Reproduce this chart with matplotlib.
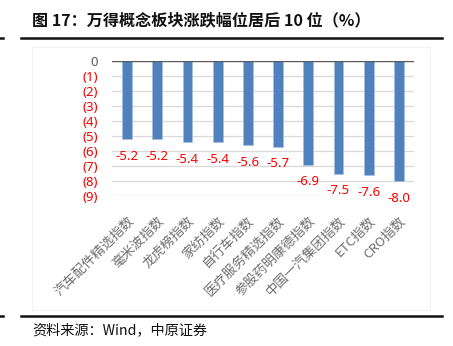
import matplotlib
matplotlib.use("Agg")
import matplotlib.pyplot as plt
from matplotlib.lines import Line2D
from matplotlib.patches import Rectangle

plt.rcParams['font.family'] = ['Noto Sans CJK SC', 'DejaVu Sans']

categories = ["汽车配件精选指数", "毫米波指数", "龙虎榜指数", "家纺指数", "自行车指数",
              "医疗服务精选指数", "参股药明康德指数", "中国一汽集团指数", "ETC指数", "CRO指数"]
values = [-5.2, -5.2, -5.4, -5.4, -5.6, -5.7, -6.9, -7.5, -7.6, -8.0]
ytick_values = [0, -1, -2, -3, -4, -5, -6, -7, -8, -9]
ytick_labels = ["0", "(1)", "(2)", "(3)", "(4)", "(5)", "(6)", "(7)", "(8)", "(9)"]

W, H = 453, 346
fig = plt.figure(figsize=(W / 100, H / 100), dpi=100)

# faint panel frame
fig.add_artist(Rectangle((32 / W, 1 - 310 / H), 398 / W, 263 / H, transform=fig.transFigure,
                         fill=False, edgecolor="#F2F2F2", linewidth=0.8))

# header / footer rules
for y in (37.5, 316):
    fig.add_artist(Line2D([21 / W, 442 / W], [1 - y / H, 1 - y / H], transform=fig.transFigure,
                          color="#111111", linewidth=1.8))
    fig.add_artist(Line2D([0, 3 / W], [1 - y / H, 1 - y / H], transform=fig.transFigure,
                          color="#111111", linewidth=1.8))

fig.text(32 / W, 1 - 20 / H, "图 17：万得概念板块涨跌幅位居后 10 位（%）", fontsize=11.6,
         fontweight="bold", color="#111111", ha="left", va="center")
fig.text(32 / W, 1 - 330 / H, "资料来源：Wind，中原证券", fontsize=10.2,
         color="#111111", ha="left", va="center")

ax = fig.add_axes([112 / W, 1 - 196 / H, 302 / W, 135 / H])
x = list(range(len(categories)))
ax.bar(x, values, width=0.32, color="#4F81BD", edgecolor="#A7C0DE", linewidth=0.5, zorder=3)

for xi, v in zip(x, values):
    ax.annotate(f"{v:.1f}", (xi, v), xytext=(0, -12.5), textcoords="offset points",
                ha="center", va="center", color="#FF0000", fontsize=9.5,
                family=["Noto Sans", "DejaVu Sans"], zorder=4)

ax.set_xlim(-0.5, len(categories) - 0.5)
ax.set_ylim(-9, 0)
ax.set_yticks(ytick_values)
ax.set_yticklabels(ytick_labels, family=["Noto Sans", "DejaVu Sans"], fontsize=9.5)
for lbl, v in zip(ax.get_yticklabels(), ytick_values):
    lbl.set_color("#595959" if v == 0 else "#FF0000")
ax.tick_params(axis="y", length=0, pad=10)

for v in ytick_values[1:]:
    ax.axhline(v, color="#D9D9D9", linewidth=0.9, zorder=1)
ax.axhline(0, color="#595959", linewidth=1.0, zorder=5)

ax.set_xticks(x)
ax.set_xticklabels(categories, rotation=45, ha="right", rotation_mode="anchor",
                   fontsize=9.5, color="#6E6E6E")
ax.tick_params(axis="x", length=0, pad=13)

for s in ax.spines.values():
    s.set_visible(False)

fig.savefig("out.png", dpi=100)
